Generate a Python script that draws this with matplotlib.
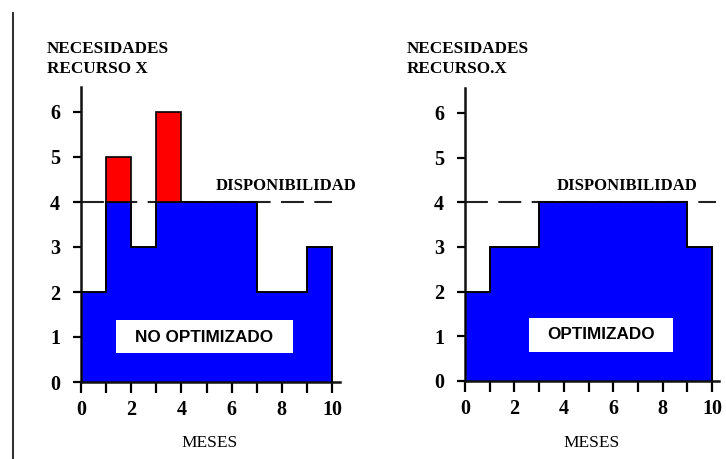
import numpy as np
import matplotlib
matplotlib.use("Agg")
import matplotlib.pyplot as plt
from matplotlib.patches import Rectangle
from matplotlib.lines import Line2D

# ---- data ----
month_edges = np.arange(0, 11)
need_no_opt = [2, 5, 3, 6, 4, 4, 4, 2, 2, 3]
need_opt = [2, 3, 3, 4, 4, 4, 4, 4, 4, 3]
availability = 4
x_ticks = [0, 2, 4, 6, 8, 10]
y_ticks = [0, 1, 2, 3, 4, 5, 6]
ylabel_left = "NECESIDADES\nRECURSO X"
ylabel_right = "NECESIDADES\nRECURSO.X"
xlabel = "MESES"
avail_label = "DISPONIBILIDAD"
title_left = "NO OPTIMIZADO"
title_right = "OPTIMIZADO"

BLUE = "#0000ff"
RED = "#ff0000"
SERIF = "Liberation Serif"
SANS = "Liberation Sans"

fig = plt.figure(figsize=(7.26, 4.59), dpi=100)
W, H = 726, 459


def make_axes(x0, px_per_unit_x, y0, px_per_unit_y, xmax=10.3, ymax=6.55):
    left = x0 / W
    width = xmax * px_per_unit_x / W
    bottom = (H - y0) / H
    height = ymax * px_per_unit_y / H
    ax = fig.add_axes([left, bottom, width, height])
    ax.set_xlim(0, xmax)
    ax.set_ylim(0, ymax)
    return ax


def style(ax):
    for s in ["top", "right"]:
        ax.spines[s].set_visible(False)
    for s in ["left", "bottom"]:
        ax.spines[s].set_linewidth(1.8)
        ax.spines[s].set_color("#111111")
    ax.set_xticks(np.arange(0, 11), minor=False)
    ax.set_xticklabels([str(v) if v in x_ticks else "" for v in range(11)])
    ax.set_yticks(y_ticks)
    ax.tick_params(axis="x", direction="out", length=8, width=1.6, pad=5,
                   labelsize=14.5)
    ax.tick_params(axis="y", direction="out", length=6, width=1.6, pad=9,
                   labelsize=14.5)
    for lab in ax.get_xticklabels() + ax.get_yticklabels():
        lab.set_fontfamily(SERIF)
        lab.set_fontweight("bold")
    ax.patch.set_alpha(0)


def draw(ax, need, box, label_center, avail_xy, dash_end):
    need = np.array(need, dtype=float)
    ax.plot([0, dash_end], [availability, availability], color="#222222",
            lw=1.5, dashes=(11, 5), zorder=1, clip_on=False)
    blue = np.minimum(need, availability)
    ax.stairs(blue, month_edges, fill=True, facecolor=BLUE, edgecolor=BLUE,
              zorder=2)
    ax.stairs(blue, month_edges, fill=False, color="black", lw=1.4,
              baseline=0, zorder=3)
    over = need - availability
    idx = np.where(over > 0)[0]
    ax.bar(month_edges[:-1][idx], over[idx], bottom=availability, width=1,
           align="edge", color=RED, edgecolor="black", lw=1.2, zorder=3)
    (bx0, by0, bx1, by1) = box
    ax.add_patch(Rectangle((bx0, by0), bx1 - bx0, by1 - by0, facecolor="white",
                           edgecolor="none", zorder=4))
    ax.text(label_center[0], label_center[1], label_center[2], ha="center",
            va="center", fontfamily=SANS, fontweight="bold", fontsize=12.3,
            zorder=5)
    ax.text(avail_xy[0], avail_xy[1], avail_label, ha="left", va="baseline",
            fontfamily=SERIF, fontweight="bold", fontsize=12, zorder=5)


# left chart
axL = make_axes(81, 25.1, 382, 45.0)
style(axL)
draw(axL, need_no_opt, (1.4, 0.65, 8.44, 1.38), (4.92, 1.0, title_left),
     (5.38, 4.27), 10.0)

# right chart
axR = make_axes(465, 24.7, 381, 44.7)
style(axR)
draw(axR, need_opt, (2.59, 0.65, 8.42, 1.41), (5.5, 1.03, title_right),
     (3.72, 4.27), 10.15)

# axis titles
fig.text(47 / W, 1 - 41 / H, ylabel_left, ha="left", va="top",
         fontfamily=SERIF, fontweight="bold", fontsize=12.3, linespacing=1.35)
fig.text(407 / W, 1 - 41 / H, ylabel_right, ha="left", va="top",
         fontfamily=SERIF, fontweight="bold", fontsize=12.3, linespacing=1.35)
fig.text(210 / W, 1 - 443 / H, xlabel, ha="center", va="center",
         fontfamily=SERIF, fontsize=12.5)
fig.text(592 / W, 1 - 443 / H, xlabel, ha="center", va="center",
         fontfamily=SERIF, fontsize=12.5)

# left border line
fig.add_artist(Line2D([13 / W, 13 / W], [0, 1 - 13 / H], color="#333333",
                      lw=1.5))

fig.savefig("out.png", dpi=100)
